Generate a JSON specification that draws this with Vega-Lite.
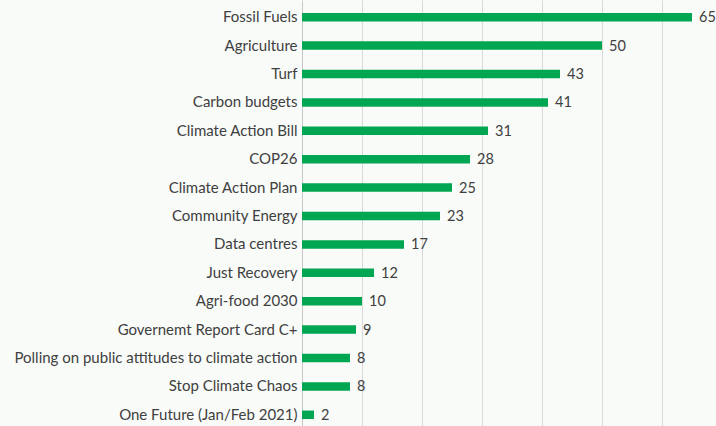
{
  "$schema": "https://vega.github.io/schema/vega-lite/v6.json",
  "width": 414,
  "height": 426,
  "autosize": {"type": "none"},
  "padding": {"left": 302, "top": 0, "right": 0, "bottom": 0},
  "background": "#f9fbf9",
  "config": {"view": {"stroke": null}, "font": "Lato"},
  "data": {"values": [
    {"topic": "Fossil Fuels", "count": 65},
    {"topic": "Agriculture", "count": 50},
    {"topic": "Turf", "count": 43},
    {"topic": "Carbon budgets", "count": 41},
    {"topic": "Climate Action Bill", "count": 31},
    {"topic": "COP26", "count": 28},
    {"topic": "Climate Action Plan", "count": 25},
    {"topic": "Community Energy", "count": 23},
    {"topic": "Data centres", "count": 17},
    {"topic": "Just Recovery", "count": 12},
    {"topic": "Agri-food 2030", "count": 10},
    {"topic": "Governemt Report Card C+", "count": 9},
    {"topic": "Polling on public attitudes to climate action", "count": 8},
    {"topic": "Stop Climate Chaos", "count": 8},
    {"topic": "One Future (Jan/Feb 2021)", "count": 2}
  ]},
  "encoding": {
    "y": {"field": "topic", "type": "nominal", "sort": null,
      "scale": {"paddingInner": 0.7, "paddingOuter": 0.35},
      "axis": {"title": null, "ticks": false, "labelPadding": 5, "labelOffset": 3, "labelFontSize": 15, "labelColor": "#404040", "domainColor": "#c8c8c8", "labelLimit": 400, "grid": false}},
    "x": {"field": "count", "type": "quantitative",
      "scale": {"domain": [0, 69], "nice": false},
      "axis": {"title": null, "labels": false, "ticks": false, "domain": false, "values": [10, 20, 30, 40, 50, 60], "gridColor": "#d9d9d9", "gridWidth": 1}}
  },
  "layer": [
    {"mark": {"type": "bar", "color": "#00a651", "yOffset": 3}},
    {"mark": {"type": "text", "align": "left", "dx": 7, "yOffset": 4, "fontSize": 14.5, "color": "#404040"},
     "encoding": {"text": {"field": "count", "type": "quantitative"}}}
  ]
}
